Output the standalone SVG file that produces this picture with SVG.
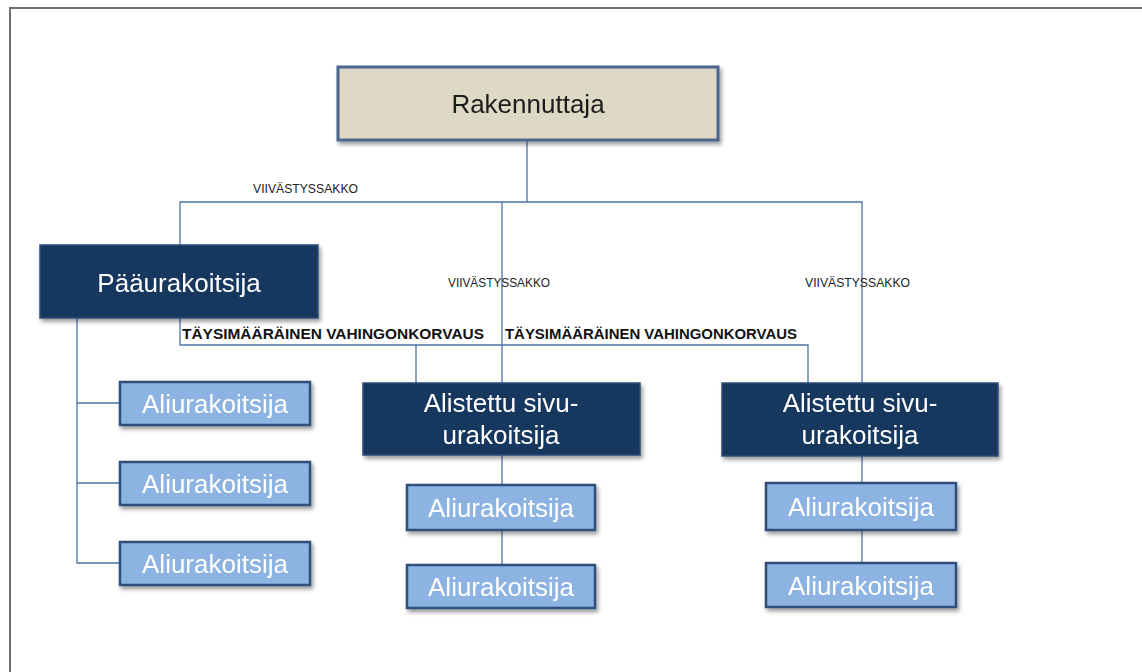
<svg xmlns="http://www.w3.org/2000/svg" width="1142" height="672" viewBox="0 0 1142 672">
<defs>
<filter id="sh" x="-10%" y="-10%" width="125%" height="140%">
<feGaussianBlur in="SourceAlpha" stdDeviation="2"/>
<feOffset dx="2" dy="3" result="b"/>
<feComponentTransfer><feFuncA type="linear" slope="0.4"/></feComponentTransfer>
<feMerge><feMergeNode/><feMergeNode in="SourceGraphic"/></feMerge>
</filter>
</defs>
<style>
.frame{fill:none;stroke:#6e6e6e;stroke-width:2}
.con{fill:none;stroke:#4a74ab;stroke-width:1.3}
.root{fill:#ddd9c4;stroke:#4d6690;stroke-width:3}
.dark{fill:#17375e;stroke:#2c4d78;stroke-width:1.5}
.light{fill:#8db3e2;stroke:#2e4f7a;stroke-width:2.5}
.t{font-family:"Liberation Sans",Arial,sans-serif;text-anchor:middle}
.tw{fill:#ffffff;font-size:26px}
.tr{fill:#1a1a1a;font-size:26px}
.lab{font-family:"Liberation Sans",Arial,sans-serif;font-size:12px;fill:#222}
.labb{font-family:"Liberation Sans",Arial,sans-serif;font-size:14px;font-weight:bold;fill:#111}
</style>
<rect width="1142" height="672" fill="#ffffff"/>
<path class="frame" d="M10,672 V8 H1142"/>
<g id="connectors">
<path class="con" d="M527,140 V202"/>
<path class="con" d="M180,245 V202 H862 V383"/>
<path class="con" d="M502,202 V383"/>
<path class="con" d="M180,318 V345 H808 V383"/>
<path class="con" d="M416,345 V383"/>
<path class="con" d="M77,318 V563 H120 M77,403 H120 M77,483 H120"/>
<path class="con" d="M502,455 V565"/>
<path class="con" d="M862,456 V563"/>
<text class="lab" x="253" y="193" textLength="105" lengthAdjust="spacingAndGlyphs">VIIVÄSTYSSAKKO</text>
<text class="lab" x="448" y="287" textLength="102" lengthAdjust="spacingAndGlyphs">VIIVÄSTYSSAKKO</text>
<text class="lab" x="805" y="287" textLength="105" lengthAdjust="spacingAndGlyphs">VIIVÄSTYSSAKKO</text>
<text class="labb" x="182" y="339" textLength="302" lengthAdjust="spacingAndGlyphs">TÄYSIMÄÄRÄINEN VAHINGONKORVAUS</text>
<text class="labb" x="505" y="339" textLength="292" lengthAdjust="spacingAndGlyphs">TÄYSIMÄÄRÄINEN VAHINGONKORVAUS</text>
</g>
<g id="rakennuttaja" filter="url(#sh)">
<rect class="root" x="338" y="67" width="380" height="73"/>
<text class="t tr" x="528" y="113">Rakennuttaja</text>
</g>
<g id="paaurakoitsija" filter="url(#sh)">
<rect class="dark" x="40" y="245" width="278" height="73"/>
<text class="t tw" x="179" y="292">Pääurakoitsija</text>
</g>
<g id="ali1" filter="url(#sh)">
<rect class="light" x="120" y="382" width="190" height="43"/>
<text class="t tw" x="215" y="413">Aliurakoitsija</text>
</g>
<g id="ali2" filter="url(#sh)">
<rect class="light" x="120" y="462" width="190" height="43"/>
<text class="t tw" x="215" y="493">Aliurakoitsija</text>
</g>
<g id="ali3" filter="url(#sh)">
<rect class="light" x="120" y="542" width="190" height="43"/>
<text class="t tw" x="215" y="573">Aliurakoitsija</text>
</g>
<g id="sivu1" filter="url(#sh)">
<rect class="dark" x="363" y="383" width="277" height="72"/>
<text class="t tw" x="501" y="412">Alistettu sivu-</text>
<text class="t tw" x="501" y="444">urakoitsija</text>
</g>
<g id="ali4" filter="url(#sh)">
<rect class="light" x="407" y="485" width="188" height="45"/>
<text class="t tw" x="501" y="517">Aliurakoitsija</text>
</g>
<g id="ali5" filter="url(#sh)">
<rect class="light" x="407" y="565" width="188" height="43"/>
<text class="t tw" x="501" y="596">Aliurakoitsija</text>
</g>
<g id="sivu2" filter="url(#sh)">
<rect class="dark" x="722" y="383" width="276" height="73"/>
<text class="t tw" x="860" y="412">Alistettu sivu-</text>
<text class="t tw" x="860" y="444">urakoitsija</text>
</g>
<g id="ali6" filter="url(#sh)">
<rect class="light" x="766" y="483" width="190" height="47"/>
<text class="t tw" x="861" y="516">Aliurakoitsija</text>
</g>
<g id="ali7" filter="url(#sh)">
<rect class="light" x="766" y="563" width="190" height="44"/>
<text class="t tw" x="861" y="595">Aliurakoitsija</text>
</g>
</svg>
